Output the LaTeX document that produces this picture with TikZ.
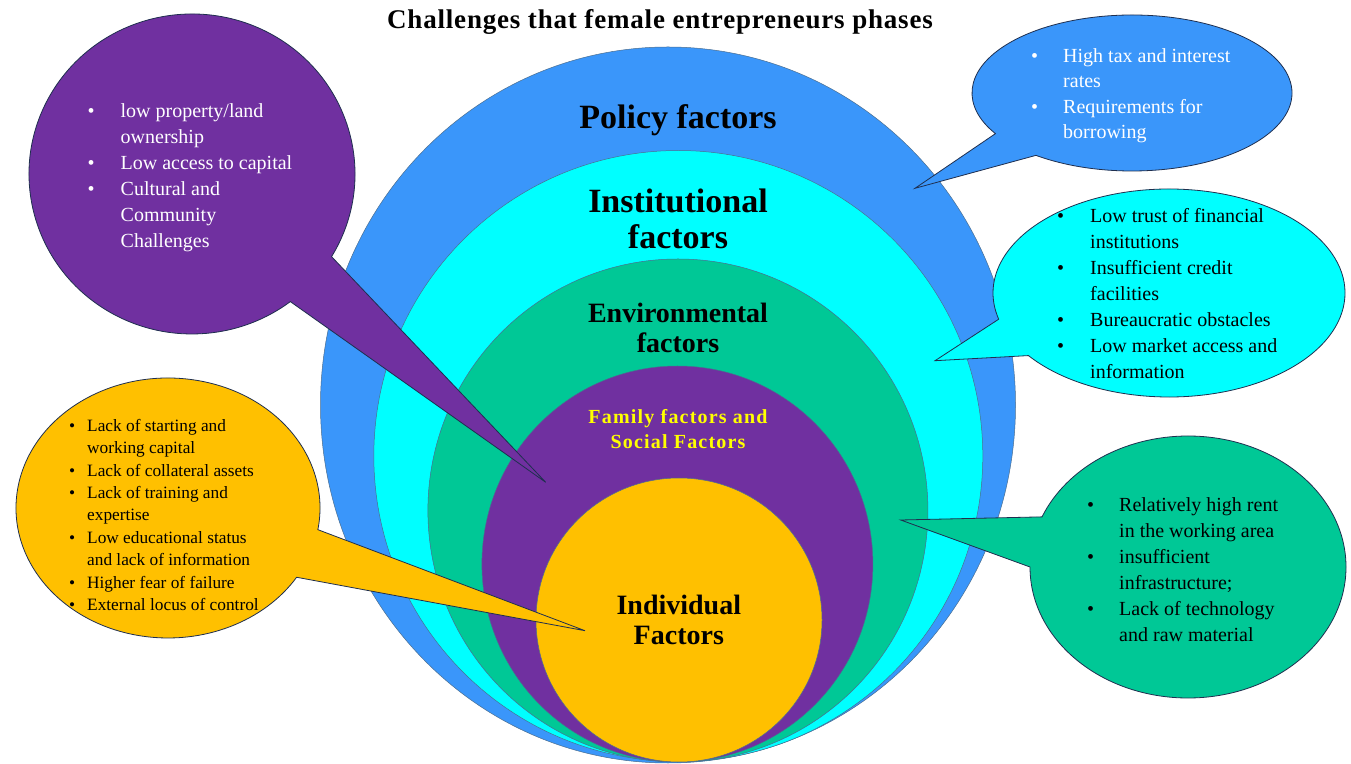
\documentclass[tikz,border=0pt]{standalone}
\usepackage{fontspec}
\setmainfont{Liberation Serif}
\usetikzlibrary{shapes.geometric}

\definecolor{policyblue}{HTML}{3A96FA}
\definecolor{instcyan}{HTML}{00FFFF}
\definecolor{envgreen}{HTML}{00C896}
\definecolor{famviolet}{HTML}{7030A0}
\definecolor{indyellow}{HTML}{FFC000}
\definecolor{rimline}{HTML}{4A6E90}
\definecolor{bubbleline}{HTML}{1F2F4F}
\definecolor{famtext}{HTML}{FFFF00}

% bulleted line and continuation line inside a bubble
\newcommand\bpt[2]{\makebox[#1][l]{\textbullet}#2}
\newcommand\bcont[2]{\hspace*{#1}#2}

\tikzset{
  ring/.style={ellipse, inner sep=0pt, outer sep=0pt, draw=rimline, line width=0.5pt},
  ringlabel/.style={align=center, inner sep=0pt, anchor=north},
  bubble/.style={draw=bubbleline, line width=0.8pt, line join=miter},
  bubbletext/.style={align=left, inner sep=0pt, anchor=north west},
}

\begin{document}
\begin{tikzpicture}[x=1pt,y=1pt]
\useasboundingbox (0,0) rectangle (1351,763);
\fill[white] (0,0) rectangle (1351,763);

% nested rings, outermost first
\node[ring, fill=policyblue, minimum width=695pt, minimum height=716pt] (policy) at (668,358) {};
\node[ring, fill=instcyan, minimum width=609pt, minimum height=611pt] (inst) at (678.3,307) {};
\node[ring, fill=envgreen, minimum width=500pt, minimum height=503pt] (env) at (677.9,252.5) {};
\node[ring, fill=famviolet, minimum width=391pt, minimum height=396pt] (fam) at (677.4,199) {};
\node[ring, fill=indyellow, minimum width=286pt, minimum height=284pt] (ind) at (679,143) {};

% ring labels
\node[anchor=base, inner sep=0pt, font=\fontsize{34}{36}\selectfont\bfseries] (policylbl) at (678,634.7) {Policy factors};
\node[ringlabel, font=\fontsize{34}{35.6}\selectfont\bfseries] (instlbl) at (678,573.8) {Institutional\\factors};
\node[ringlabel, font=\fontsize{28}{29.7}\selectfont\bfseries] (envlbl) at (678,460.3) {Environmental\\factors};
\node[ringlabel, text=famtext, font=\fontsize{20}{25}\selectfont\bfseries\addfontfeatures{LetterSpace=6}] (famlbl) at (678,353.5) {Family factors and\\Social Factors};
\node[ringlabel, font=\fontsize{28}{30}\selectfont\bfseries] (indlbl) at (678.8,168.6) {Individual\\Factors};

% callout bubbles: ellipse body plus a wedge running to the tip
\coordinate (famtip) at (545.7,280.7);
\coordinate (famc) at (192,589);
\draw[bubble, fill=famviolet] (famc) ++(-31.1:163pt and 160pt)
  arc[start angle=-31.1, end angle=307.1, x radius=163pt, y radius=160pt] -- (famtip) -- cycle;

\coordinate (poltip) at (915,574.7);
\coordinate (polc) at (1132,670);
\draw[bubble, fill=policyblue] (polc) ++(233.1:160pt and 78pt)
  arc[start angle=233.1, end angle=571.4, x radius=160pt, y radius=78pt] -- (poltip) -- cycle;

\coordinate (insttip) at (935,402.3);
\coordinate (instc) at (1169,470);
\draw[bubble, fill=instcyan] (instc) ++(217.0:176pt and 104pt)
  arc[start angle=217.0, end angle=554.6, x radius=176pt, y radius=104pt] -- (insttip) -- cycle;

\coordinate (envtip) at (900.7,243);
\coordinate (envc) at (1188,196);
\draw[bubble, fill=envgreen] (envc) ++(180:158pt and 131pt)
  arc[start angle=180, end angle=517.5, x radius=158pt, y radius=131pt] -- (envtip) -- cycle;

\coordinate (indtip) at (585,132.3);
\coordinate (indc) at (168,255);
\draw[bubble, fill=indyellow] (indc) ++(-9.6:152pt and 130pt)
  arc[start angle=-9.6, end angle=327.8, x radius=152pt, y radius=130pt] -- (indtip) -- cycle;

% bubble texts
\node[bubbletext, text=white, font=\fontsize{20}{25.9}\selectfont] (famnotes) at (87.5,659.4) {%
\bpt{33pt}{low property/land}\\
\bcont{33pt}{ownership}\\
\bpt{33pt}{Low access to capital}\\
\bpt{33pt}{Cultural and}\\
\bcont{33pt}{Community}\\
\bcont{33pt}{Challenges}};

\node[bubbletext, text=white, font=\fontsize{20}{25.5}\selectfont] (polnotes) at (1031,715) {%
\bpt{32pt}{High tax and interest}\\
\bcont{32pt}{rates}\\
\bpt{32pt}{Requirements for}\\
\bcont{32pt}{borrowing}};

\node[bubbletext, font=\fontsize{20}{26.1}\selectfont] (instnotes) at (1057,555) {%
\bpt{33pt}{Low trust of financial}\\
\bcont{33pt}{institutions}\\
\bpt{33pt}{Insufficient credit}\\
\bcont{33pt}{facilities}\\
\bpt{33pt}{Bureaucratic obstacles}\\
\bpt{33pt}{Low market access and}\\
\bcont{33pt}{information}};

\node[bubbletext, font=\fontsize{20}{26}\selectfont] (envnotes) at (1087,266) {%
\bpt{32pt}{Relatively high rent}\\
\bcont{32pt}{in the working area}\\
\bpt{32pt}{insufficient}\\
\bcont{32pt}{infrastructure;}\\
\bpt{32pt}{Lack of technology}\\
\bcont{32pt}{and raw material}};

\node[bubbletext, font=\fontsize{17.3}{22.4}\selectfont] (indnotes) at (69,344.1) {%
\bpt{18pt}{Lack of starting and}\\
\bcont{18pt}{working capital}\\
\bpt{18pt}{Lack of collateral assets}\\
\bpt{18pt}{Lack of training and}\\
\bcont{18pt}{expertise}\\
\bpt{18pt}{Low educational status}\\
\bcont{18pt}{and lack of information}\\
\bpt{18pt}{Higher fear of failure}\\
\bpt{18pt}{External locus of control}};

% title
\node[anchor=base, inner sep=0pt, font=\fontsize{27}{30}\selectfont\bfseries\addfontfeatures{LetterSpace=3}] (title) at (660,734.7) {Challenges that female entrepreneurs phases};
\end{tikzpicture}
\end{document}
